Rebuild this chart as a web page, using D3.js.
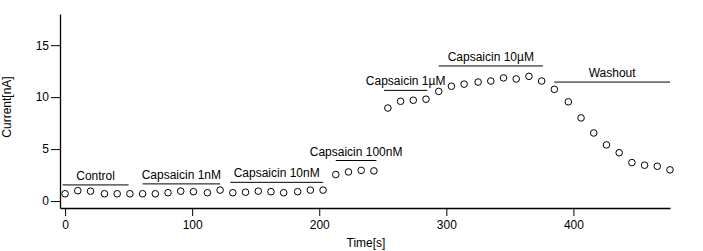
<!DOCTYPE html>
<html>
<head>
<meta charset="utf-8">
<script src="https://cdn.jsdelivr.net/npm/d3@7"></script>
<style>
  body { margin: 0; background: #fff; }
  svg text { font-family: "Liberation Sans", Arial, sans-serif; font-size: 12px; fill: #000; }
</style>
</head>
<body>
<script>
// sample times (s) and measured current (nA)
const times = [0, 10, 20, 31, 41, 51, 61, 71, 81, 91, 101, 112, 122, 132, 142, 152,
  162, 172, 183, 193, 203, 213, 223, 233, 243, 254, 264, 274, 284, 294, 304, 314,
  325, 335, 345, 355, 365, 375, 385, 396, 406, 416, 426, 436, 446, 456, 466, 476];
const current = [0.7, 1.0, 0.95, 0.7, 0.7, 0.7, 0.7, 0.7, 0.8, 0.95, 0.9, 0.8, 1.05,
  0.8, 0.85, 0.95, 0.9, 0.8, 0.9, 1.05, 1.05, 2.55, 2.8, 2.95, 2.9, 8.95, 9.6, 9.7,
  9.8, 10.55, 11.05, 11.25, 11.45, 11.55, 11.85, 11.75, 12.0, 11.55, 10.75, 9.55,
  8.0, 6.55, 5.4, 4.65, 3.7, 3.45, 3.35, 3.0];

// application periods
const phaseLabels = ["Control", "Capsaicin 1nM", "Capsaicin 10nM", "Capsaicin 100nM",
  "Capsaicin 1\u00b5M", "Capsaicin 10\u00b5M", "Washout"];
const phaseStart = [-2, 61, 130, 213, 251, 294, 385];
const phaseEnd = [50, 122, 203, 245, 285, 376, 476];
const phaseLevel = [1.55, 1.65, 1.8, 3.9, 10.65, 13.0, 11.45];

const xTicks = [0, 100, 200, 300, 400];
const yTicks = [0, 5, 10, 15];

const width = 703;
const height = 251;

const svg = d3.select('body')
  .append('svg')
  .attr('width', width)
  .attr('height', height);

const x = d3.scaleLinear().domain([-4, 476]).range([60, 670]);
const y = d3.scaleLinear().domain([-0.67, 18]).range([208, 14]);

// axes
const xAxis = svg.append('g')
  .attr('transform', `translate(0,${y.range()[0]})`)
  .call(d3.axisBottom(x).tickValues(xTicks).tickSize(8).tickPadding(4).tickSizeOuter(0));
const yAxis = svg.append('g')
  .attr('transform', `translate(${x.range()[0]},0)`)
  .call(d3.axisLeft(y).tickValues(yTicks).tickSize(9).tickPadding(2).tickSizeOuter(0));

[xAxis, yAxis].forEach((a) => {
  a.select('.domain').attr('stroke', '#000').attr('stroke-width', 1.3);
  a.selectAll('.tick line').attr('stroke', '#000');
  a.selectAll('text').attr('font-family', null).attr('font-size', null);
});

svg.append('text')
  .attr('x', 366)
  .attr('y', 247)
  .attr('text-anchor', 'middle')
  .text('Time[s]');

svg.append('text')
  .attr('transform', 'translate(11,107) rotate(-90)')
  .attr('text-anchor', 'middle')
  .text('Current[nA]');

// phase bars with labels
const phases = phaseLabels.map((label, i) => ({
  label, start: phaseStart[i], end: phaseEnd[i], level: phaseLevel[i]
}));

const ph = svg.append('g').selectAll('g')
  .data(phases)
  .enter()
  .append('g');

ph.append('line')
  .attr('x1', (d) => x(d.start))
  .attr('x2', (d) => x(d.end))
  .attr('y1', (d) => y(d.level))
  .attr('y2', (d) => y(d.level))
  .attr('stroke', '#000')
  .attr('stroke-width', 1);

ph.append('text')
  .attr('x', (d) => (x(d.start) + x(d.end)) / 2)
  .attr('y', (d) => y(d.level) - 5)
  .attr('text-anchor', 'middle')
  .text((d) => d.label);

// data points
svg.append('g').selectAll('circle')
  .data(times.map((t, i) => ({ t, v: current[i] })))
  .enter()
  .append('circle')
  .attr('cx', (d) => x(d.t))
  .attr('cy', (d) => y(d.v))
  .attr('r', 3.3)
  .attr('fill', '#fff')
  .attr('stroke', '#000')
  .attr('stroke-width', 1);
</script>
</body>
</html>
